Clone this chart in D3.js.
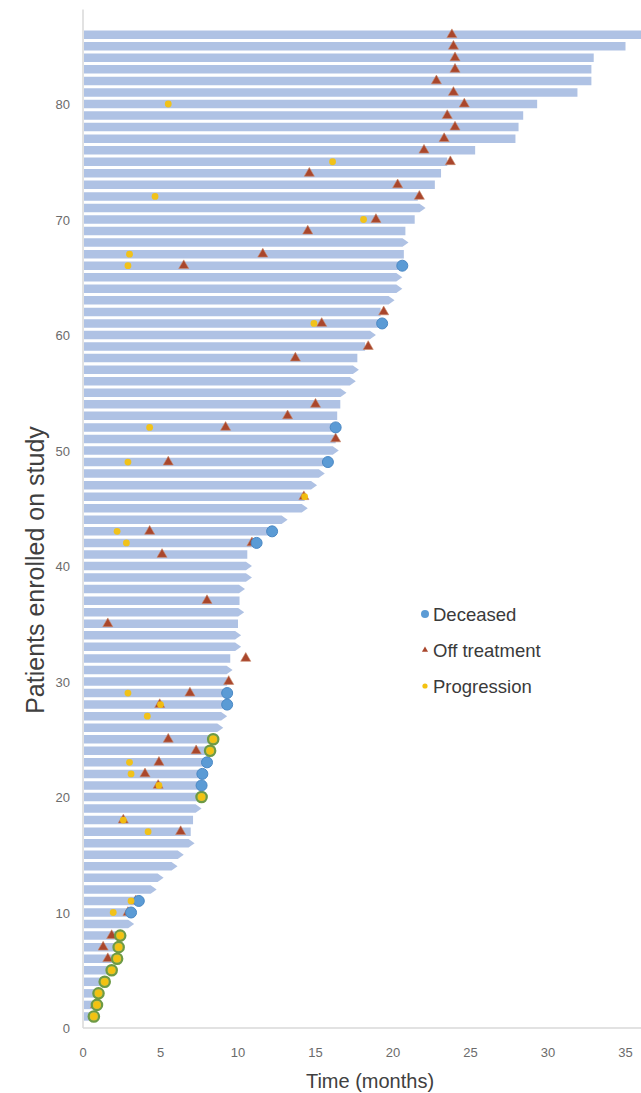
<!DOCTYPE html>
<html>
<head>
<meta charset="utf-8">
<script src="https://cdn.jsdelivr.net/npm/d3@7"></script>
<style>
  html, body { margin: 0; padding: 0; background: #fff; }
  svg { display: block; font-family: "Liberation Sans", Arial, sans-serif; }
</style>
</head>
<body>
<script>
// one entry per patient, patient 1 first (months)
const duration = [
  0.7, 0.9, 1.0, 1.4, 1.85, 2.2, 2.3, 2.4, 3.3, 3.1,
  3.6, 4.75, 5.2, 6.1, 6.5, 7.2, 6.95, 7.1, 7.65, 7.65,
  7.65, 7.7, 8.0, 8.2, 8.4, 9.05, 9.3, 9.3, 9.3, 9.3,
  9.65, 9.5, 10.2, 10.2, 10.0, 10.4, 10.1, 10.45, 10.9, 10.9,
  10.6, 11.2, 12.2, 13.2, 14.5, 14.3, 15.1, 15.6, 15.8, 16.5,
  16.3, 16.3, 16.4, 16.6, 17.0, 17.6, 17.8, 17.7, 18.2, 18.9,
  19.3, 19.2, 20.1, 20.6, 20.6, 20.6, 20.7, 21.0, 20.8, 21.4,
  22.1, 21.6, 22.7, 23.1, 23.5, 25.3, 27.9, 28.1, 28.4, 29.3,
  31.9, 32.8, 32.8, 32.95, 35.0, 37.0
];

// 1 = still on study (drawn with an arrow head)
const ongoing = [
  0, 0, 0, 0, 0, 0, 0, 0, 1, 0,
  0, 1, 1, 1, 1, 1, 0, 0, 1, 0,
  0, 0, 0, 0, 0, 1, 1, 0, 0, 0,
  1, 0, 1, 1, 0, 1, 0, 1, 1, 1,
  0, 0, 0, 1, 1, 0, 1, 1, 0, 1,
  0, 0, 0, 0, 1, 1, 1, 0, 0, 1,
  0, 0, 1, 1, 1, 0, 0, 1, 0, 0,
  1, 0, 0, 0, 0, 0, 0, 0, 0, 0,
  0, 0, 0, 0, 0, 0
];

const deceased = [
  0.7, 0.9, 1.0, 1.4, 1.85, 2.2, 2.3, 2.4, null, 3.1,
  3.6, null, null, null, null, null, null, null, null, 7.65,
  7.65, 7.7, 8.0, 8.2, 8.4, null, null, 9.3, 9.3, null,
  null, null, null, null, null, null, null, null, null, null,
  null, 11.2, 12.2, null, null, null, null, null, 15.8, null,
  null, 16.3, null, null, null, null, null, null, null, null,
  19.3, null, null, null, null, 20.6, null, null, null, null,
  null, null, null, null, null, null, null, null, null, null,
  null, null, null, null, null, null
];

const offTreatment = [
  null, 0.8, null, null, null, 1.6, 1.3, 1.85, null, 2.9,
  3.4, null, null, null, null, null, 6.3, 2.6, null, null,
  4.85, 4.0, 4.9, 7.3, 5.5, null, null, 4.95, 6.9, 9.4,
  null, 10.5, null, null, 1.6, null, 8.0, null, null, null,
  5.1, 10.9, 4.3, null, null, 14.25, null, null, 5.5, null,
  16.3, 9.2, 13.2, 15.0, null, null, null, 13.7, 18.4, null,
  15.4, 19.4, null, null, null, 6.5, 11.6, null, 14.5, 18.9,
  null, 21.7, 20.3, 14.6, 23.7, 22.0, 23.3, 24.0, 23.5, 24.6,
  23.9, 22.8, 24.0, 24.0, 23.9, 23.8
];

const progression = [
  0.7, 0.9, 1.0, 1.4, 1.85, 2.2, 2.3, 2.4, null, 1.95,
  3.1, null, null, null, null, null, 4.2, 2.6, null, 7.65,
  4.9, 3.1, 3.0, 8.2, 8.4, null, 4.15, 5.0, 2.9, null,
  null, null, null, null, null, null, null, null, null, null,
  null, 2.8, 2.2, null, null, 14.3, null, null, 2.9, null,
  null, 4.3, null, null, null, null, null, null, null, null,
  14.9, null, null, null, null, 2.9, 3.0, null, null, 18.1,
  null, 4.65, null, null, 16.1, null, null, null, null, 5.5,
  null, null, null, null, null, null
];

const xTicks = [0, 5, 10, 15, 20, 25, 30, 35];
const yTicks = [0, 10, 20, 30, 40, 50, 60, 70, 80];
const legendItems = ["Deceased", "Off treatment", "Progression"];

const W = 641, H = 1093;
const colBar = "#afc2e4", colDead = "#5b9bd5", colOff = "#a9462c", colProg = "#f4c20f";

const patients = duration.map((d, i) => ({
  id: i + 1, dur: d, ongoing: ongoing[i] === 1,
  dead: deceased[i], off: offTreatment[i], prog: progression[i]
}));

const svg = d3.select("body").append("svg")
  .attr("width", W).attr("height", H);

const x = d3.scaleLinear().domain([0, 36]).range([83, 641]);
const y = d3.scaleLinear().domain([0, 88]).range([1028, 11.6]);
const barH = 8.5, head = 6;

const defs = svg.append("defs");
defs.append("clipPath").attr("id", "plot")
  .append("rect").attr("x", x(0)).attr("y", 0).attr("width", W - x(0)).attr("height", y(0));

const plot = svg.append("g").attr("clip-path", "url(#plot)");

// bars
plot.append("g").selectAll("path").data(patients).join("path")
  .attr("fill", colBar)
  .attr("d", d => {
    const x0 = x(0) + 1, x1 = x(d.dur), yc = y(d.id);
    const t = yc - barH / 2, b = yc + barH / 2;
    if (d.ongoing) {
      return `M${x0},${t}L${x1 - head},${t}L${x1},${yc}L${x1 - head},${b}L${x0},${b}Z`;
    }
    return `M${x0},${t}L${x1},${t}L${x1},${b}L${x0},${b}Z`;
  });

// off treatment
plot.append("g").selectAll("path").data(patients.filter(d => d.off != null)).join("path")
  .attr("transform", d => `translate(${x(d.off)},${y(d.id)})`)
  .attr("d", d3.symbol(d3.symbolTriangle, 44))
  .attr("fill", colOff)
  .attr("stroke", "#c98a6c").attr("stroke-width", 0.6);

// deceased (ring turns green where progression happened at the same time)
plot.append("g").selectAll("circle").data(patients.filter(d => d.dead != null)).join("circle")
  .attr("cx", d => x(d.dead)).attr("cy", d => y(d.id))
  .attr("r", d => d.prog === d.dead ? 5.2 : 5.5)
  .attr("fill", d => d.prog === d.dead ? "#d9c13a" : colDead)
  .attr("stroke", d => d.prog === d.dead ? "#6d9a45" : "#4a88c4")
  .attr("stroke-width", d => d.prog === d.dead ? 2.2 : 1);

// progression
plot.append("g").selectAll("circle").data(patients.filter(d => d.prog != null)).join("circle")
  .attr("cx", d => x(d.prog)).attr("cy", d => y(d.id))
  .attr("r", 3.4)
  .attr("fill", colProg)
  .attr("opacity", 0.95);

// axes
const axisCol = "#d9d9d9", tickCol = "#6b6b6b";
svg.append("line").attr("x1", x(0)).attr("x2", W).attr("y1", y(0)).attr("y2", y(0))
  .attr("stroke", axisCol).attr("stroke-width", 1.5);
svg.append("line").attr("x1", x(0)).attr("x2", x(0)).attr("y1", y(88) - 2).attr("y2", y(0))
  .attr("stroke", axisCol).attr("stroke-width", 1.5);

svg.append("g").selectAll("text").data(xTicks).join("text")
  .attr("x", d => x(d)).attr("y", 1057)
  .attr("text-anchor", "middle").attr("font-size", 13).attr("fill", tickCol)
  .text(d => d);

svg.append("g").selectAll("text").data(yTicks).join("text")
  .attr("x", 70).attr("y", d => y(d) + 5)
  .attr("text-anchor", "end").attr("font-size", 13).attr("fill", tickCol)
  .text(d => d);

svg.append("text")
  .attr("x", 370).attr("y", 1088)
  .attr("text-anchor", "middle").attr("font-size", 20).attr("fill", "#404040")
  .text("Time (months)");

svg.append("text")
  .attr("transform", "translate(44,570) rotate(-90)")
  .attr("text-anchor", "middle").attr("font-size", 25).attr("fill", "#404040")
  .text("Patients enrolled on study");

// legend
const leg = svg.append("g").attr("transform", "translate(425,614)");
const row = leg.selectAll("g").data(legendItems).join("g")
  .attr("transform", (d, i) => `translate(0,${i * 36})`);
row.filter((d, i) => i === 0).append("circle").attr("r", 4).attr("fill", colDead);
row.filter((d, i) => i === 1).append("path").attr("d", d3.symbol(d3.symbolTriangle, 16)).attr("fill", colOff);
row.filter((d, i) => i === 2).append("circle").attr("r", 2.6).attr("fill", colProg);
row.append("text").attr("x", 8).attr("y", 6.5)
  .attr("font-size", 18.5).attr("fill", "#3a3a3a")
  .text(d => d);
</script>
</body>
</html>
